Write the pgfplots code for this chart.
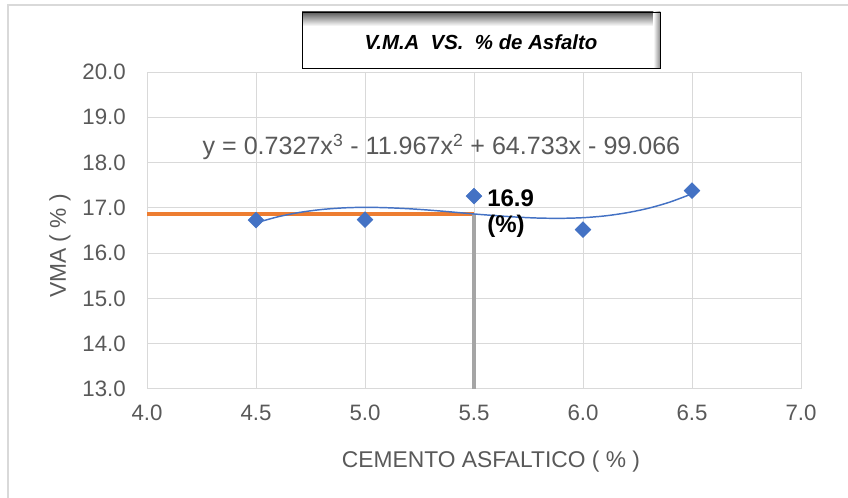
\documentclass[border=0pt]{standalone}
\usepackage{pgfplots}
\pgfplotsset{compat=1.18}
\usepackage{fontspec}
\setmainfont{Liberation Sans}
\definecolor{mblue}{HTML}{4472C4}
\definecolor{morange}{HTML}{ED7D31}
\definecolor{mgray}{HTML}{A5A5A5}
\definecolor{gridc}{HTML}{D9D9D9}
\definecolor{textc}{HTML}{595959}
\begin{document}
\begin{tikzpicture}
\useasboundingbox (0,0) rectangle (636pt,373.5pt);
\draw[color=gridc, line width=1pt] (6pt,0) -- (6pt,369.75pt) -- (640pt,369.75pt);
\begin{axis}[
 at={(110.25pt,81.75pt)}, anchor=south west, scale only axis,
 width=490.5pt, height=237.75pt,
 xmin=4, xmax=7, ymin=13, ymax=20,
 xtick={4,4.5,5,5.5,6,6.5,7}, ytick={13,14,15,16,17,18,19,20},
 grid=major, major grid style={gridc, line width=0.75pt},
 axis line style={gridc, line width=0.75pt},
 major tick length=0pt,
 tick label style={font=\fontsize{16.7}{19}\selectfont, text=textc},
 xticklabel style={anchor=north, inner sep=0pt, yshift=-12pt},
 yticklabel style={anchor=east, inner sep=0pt, xshift=-15.75pt},
 /pgf/number format/fixed,
 /pgf/number format/fixed zerofill,
 /pgf/number format/precision=1,
 /pgf/number format/assume math mode=true,
]
% reference lines
\addplot[morange, line width=3pt] coordinates {(4,16.86) (5.5,16.86)};
\addplot[mgray, line width=2.5pt] coordinates {(5.5,16.86) (5.5,13)};
% data
\addplot[only marks, mark=square*, mark size=4.2pt, mark options={rotate=45, fill=mblue, draw=mblue}]
 coordinates {(4.5,16.73) (5.0,16.74) (5.5,17.26) (6.0,16.52) (6.5,17.38)};
% polynomial trendline
\addplot[mblue, line width=1.1pt, smooth] coordinates {
(4.5,16.668) (4.6,16.802) (4.7,16.899) (4.8,16.963) (4.9,16.999) (5.0,17.012)
(5.1,17.003) (5.2,16.981) (5.3,16.948) (5.4,16.908) (5.5,16.865) (5.6,16.828)
(5.7,16.795) (5.8,16.774) (5.9,16.769) (6.0,16.783) (6.1,16.822) (6.2,16.891)
(6.3,16.991) (6.4,17.130) (6.5,17.311)};
\end{axis}
% axis titles
\node[text=textc, font=\fontsize{17.1}{20}\selectfont] at (368.25pt,27pt) {CEMENTO ASFALTICO ( \% )};
\node[text=textc, font=\fontsize{17.1}{20}\selectfont, rotate=90] at (45pt,189pt) {VMA ( \% )};
% equation
\node[text=textc, font=\fontsize{18.8}{22}\selectfont, anchor=base, inner sep=0pt] at (331.1pt,257.25pt)
 {y = 0.7327x\textsuperscript{3} - 11.967x\textsuperscript{2} + 64.733x - 99.066};
% value label
\node[font=\fontsize{18}{21}\bfseries\selectfont, anchor=west, inner sep=0pt] at (365.25pt,224.6pt) {16.9};
\node[font=\fontsize{18}{21}\bfseries\selectfont, anchor=west, inner sep=0pt] at (365.25pt,203.6pt) {(\%)};
% title box
\fill[white] (226.5pt,322.5pt) rectangle (495pt,364.5pt);
\shade[top color=black!65, bottom color=white] (226.5pt,354pt) rectangle (495pt,364.5pt);
\shade[left color=white, right color=black!45] (490pt,322.5pt) rectangle (495pt,364.5pt);
\draw[black, line width=0.6pt] (226.5pt,322.5pt) rectangle (495pt,364.5pt);
\node[font=\fontsize{15.3}{18}\bfseries\itshape\selectfont] at (360.75pt,342pt) {V.M.A\ \ VS.\ \ \% de Asfalto};
\end{tikzpicture}
\end{document}
